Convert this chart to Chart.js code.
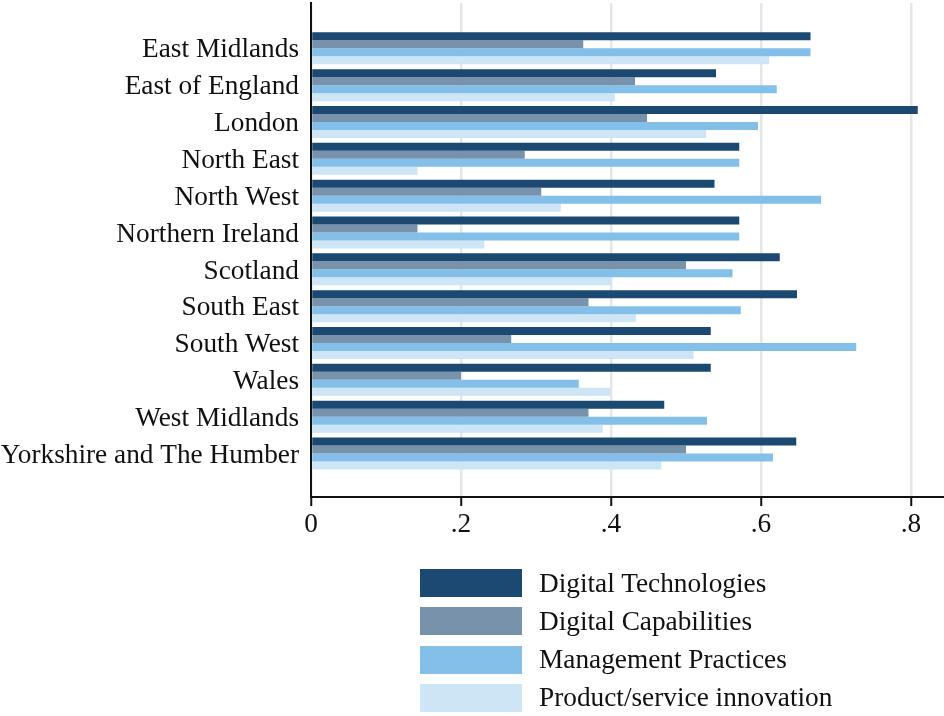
<!DOCTYPE html>
<html>
<head>
<meta charset="utf-8">
<script src="https://cdn.jsdelivr.net/npm/chart.js@4.4.1/dist/chart.umd.min.js"></script>
<style>
    html, body { margin: 0; padding: 0; background: #fff; }
    #wrap { position: relative; width: 944px; height: 716px; }
    #legend { position: absolute; left: 420px; top: 569px; font-family: 'Liberation Serif', 'Times New Roman', serif; font-size: 27.3px; color: #111; }
    .lg-item { display: flex; align-items: center; height: 28px; margin-bottom: 10.3px; }
    .lg-box { width: 102px; height: 28px; margin-right: 17px; }
</style>
</head>
<body>
<div id="wrap">
    <canvas id="chart-regions"></canvas>
    <div id="legend"></div>
</div>
<script>
const regions = ['East Midlands', 'East of England', 'London', 'North East', 'North West', 'Northern Ireland',
    'Scotland', 'South East', 'South West', 'Wales', 'West Midlands', 'Yorkshire and The Humber'];

const digitalTech = [0.666, 0.540, 0.809, 0.571, 0.538, 0.571, 0.625, 0.648, 0.533, 0.533, 0.471, 0.647];
const digitalCap = [0.363, 0.432, 0.448, 0.285, 0.307, 0.142, 0.500, 0.370, 0.267, 0.200, 0.370, 0.500];
const mgmtPractices = [0.666, 0.621, 0.596, 0.571, 0.680, 0.571, 0.562, 0.573, 0.727, 0.357, 0.528, 0.616];
const productInnov = [0.611, 0.405, 0.527, 0.142, 0.333, 0.231, 0.401, 0.433, 0.510, 0.399, 0.389, 0.467];

const xTicks = [0, 0.2, 0.4, 0.6, 0.8];

const FONT = { family: "'Liberation Serif', 'Times New Roman', serif", size: 27.3 };

function qs(id) {
    return document.getElementById(id);
}

function toPoints(values) {
    return values.map((v, i) => ({ x: v, y: i }));
}

function tickLabel(v) {
    if (v === 0) return '0';
    return v.toFixed(1).replace(/^0/, '');
}

function buildLegend(chart) {
    const box = qs('legend');
    chart.data.datasets.forEach((ds) => {
        const row = document.createElement('div');
        row.className = 'lg-item';
        const sw = document.createElement('span');
        sw.className = 'lg-box';
        sw.style.background = ds.backgroundColor;
        const txt = document.createElement('span');
        txt.textContent = ds.label;
        row.appendChild(sw);
        row.appendChild(txt);
        box.appendChild(row);
    });
}

const chart = new Chart(qs('chart-regions').getContext('2d'), {
    type: 'bar',
    data: {
        datasets: [
            { label: 'Digital Technologies', data: toPoints(digitalTech), backgroundColor: '#1b4971' },
            { label: 'Digital Capabilities', data: toPoints(digitalCap), backgroundColor: '#7892ac' },
            { label: 'Management Practices', data: toPoints(mgmtPractices), backgroundColor: '#83bfe8' },
            { label: 'Product/service innovation', data: toPoints(productInnov), backgroundColor: '#cde5f5' }
        ]
    },
    options: {
        indexAxis: 'y',
        responsive: true,
        maintainAspectRatio: false,
        animation: false,
        devicePixelRatio: 1,
        layout: { padding: { top: 3, left: 0, right: 0, bottom: 0 } },
        datasets: {
            bar: { categoryPercentage: 0.869, barPercentage: 1.0, borderWidth: 0 }
        },
        scales: {
            x: {
                type: 'linear',
                min: 0,
                max: 0.844,
                afterBuildTicks: (axis) => { axis.ticks = xTicks.map((v) => ({ value: v })); },
                afterFit: (axis) => { axis.height = 716 - 497; },
                ticks: { color: '#111', font: FONT, padding: 2, maxRotation: 0, callback: (v) => tickLabel(v) },
                grid: { color: '#e6e6e6', lineWidth: 2.5, drawTicks: true, tickLength: 9, tickColor: '#111', tickWidth: 2 },
                border: { display: true, color: '#111', width: 2 }
            },
            y: {
                type: 'linear',
                reverse: true,
                offset: false,
                min: -1.23,
                max: 12.18,
                afterBuildTicks: (axis) => { axis.ticks = regions.map((_, i) => ({ value: i })); },
                afterFit: (axis) => {
                    axis.width = 311;
                    axis.paddingTop = 0;
                    axis.paddingBottom = 0;
                },
                ticks: { color: '#111', font: FONT, padding: 12, labelOffset: 2, callback: (v) => regions[v] },
                grid: { display: false, drawTicks: false, offset: false },
                border: { display: true, color: '#111', width: 2 }
            }
        },
        plugins: {
            legend: { display: false },
            tooltip: { enabled: false }
        }
    }
});

buildLegend(chart);
</script>
</body>
</html>
